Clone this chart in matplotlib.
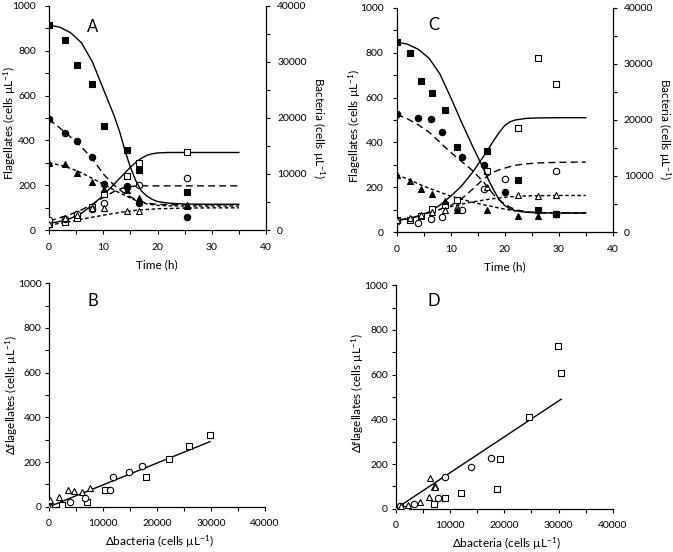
import matplotlib
matplotlib.use("Agg")
import matplotlib.pyplot as plt

plt.rcParams["font.family"] = ["Lato", "DejaVu Sans"]
plt.rcParams["mathtext.default"] = "regular"

# ---- panel A: time series (open = flagellates, filled = bacteria) ----
a_time = [0, 3.0, 5.2, 7.9, 10.2, 14.3, 16.6, 25.4]
a_bact_sq = [36600, 33900, 29500, 26100, 18600, 14300, 10700, 6700]
a_bact_ci = [19800, 17400, 15800, 13000, 8300, 7600, 4900, 2300]
a_bact_tr = [12000, 11800, 10200, 8500, 7300, 7100, 5800, 4400]
a_flag_sq = [28, 34, 52, 103, 161, 242, 300, 350]
a_flag_ci = [45, 50, 72, 92, 122, 195, 203, 231]
a_flag_tr = [27, 55, 66, 97, 97, 86, 87, 106]

a_fit_t = [0, 2, 4, 6, 8, 10, 12, 13, 14, 15, 16, 17, 18, 19, 20, 22, 25, 30, 35]
a_fit_bact_sq = [36600, 36200, 35200, 33400, 30000, 25200, 20400, 17600, 14200, 11200,
                 8800, 7000, 6080, 5480, 5080, 4800, 4640, 4600, 4600]
a_fit_bact_ci = [19800, 18200, 16600, 14800, 12720, 10000, 8000, 7200, 6480, 5920,
                 5400, 5080, 4800, 4680, 4600, 4520, 4520, 4520, 4520]
a_fit_bact_tr = [12000, 11600, 11000, 10200, 9200, 8200, 7120, 6640, 6200, 5720,
                 5280, 4960, 4680, 4520, 4400, 4320, 4280, 4280, 4280]
a_fit_flag_sq = [30, 38, 52, 75, 112, 155, 205, 230, 255, 280, 302, 320, 333, 340, 344, 346, 346, 346, 346]
a_fit_flag_ci = [40, 55, 70, 90, 115, 145, 172, 182, 190, 194, 196, 197, 197, 197, 197, 197, 197, 197, 197]
a_fit_flag_tr = [22, 30, 38, 48, 57, 66, 74, 78, 82, 85, 88, 90, 92, 93, 95, 96, 98, 99, 99]

# ---- panel C ----
c_time_sq = [0, 2.5, 4.5, 6.6, 8.9, 11.2, 16.7, 22.4, 26.1, 29.5]
c_time_ci = [0, 3.9, 6.35, 8.4, 12.0, 16.1, 20.1, 29.5]
c_bact_sq = [33900, 32000, 27000, 24800, 21800, 15200, 14500, 9200, 3900, 3200]
c_bact_ci = [21100, 20300, 20100, 17800, 13300, 12000, 7100, 3300]
c_bact_tr = [10100, 9100, 7700, 6700, 5600, 4000, 3900, 2900, 2800, 3200]
c_flag_sq = [54, 54, 73, 101, 120, 143, 272, 466, 778, 661]
c_flag_ci = [50, 42, 59, 65, 98, 190, 235, 270]
c_flag_tr = [55, 62, 75, 88, 100, 112, 202, 165, 162, 163]

c_fit_t = [0, 2, 4, 6, 8, 10, 12, 14, 16, 17, 18, 19, 20, 21, 22, 24, 26, 30, 35]
c_fit_bact_sq = [33920, 33520, 32600, 31000, 28200, 24000, 19600, 15400, 11400, 9280,
                 7400, 5720, 4720, 4120, 3800, 3520, 3440, 3400, 3400]
c_fit_bact_ci = [21000, 20200, 19120, 17800, 16000, 14200, 12600, 11000, 9000, 7800,
                 6600, 5720, 5000, 4400, 4000, 3600, 3440, 3400, 3400]
c_fit_bact_tr = [10200, 9480, 8600, 7800, 7120, 6400, 5880, 5320, 4880, 4680,
                 4480, 4280, 4080, 3920, 3760, 3560, 3480, 3400, 3400]
c_fit_flag_sq = [52, 58, 70, 90, 120, 160, 205, 265, 335, 372, 410, 445, 475, 492, 500, 507, 509, 510, 510]
c_fit_flag_ci = [52, 60, 72, 88, 102, 118, 148, 190, 235, 253, 268, 278, 285, 292, 298, 304, 308, 311, 312]
c_fit_flag_tr = [52, 60, 72, 86, 100, 113, 124, 134, 142, 146, 149, 152, 155, 157, 159, 161, 162, 163, 163]

# ---- panel B: delta flagellates vs delta bacteria ----
b_sq_x = [0, 2500, 7050, 10450, 17950, 22300, 25850, 29750]
b_sq_y = [0, 7, 22, 76, 132, 212, 272, 322]
b_ci_x = [0, 3900, 6600, 11300, 11900, 14900, 17300]
b_ci_y = [0, 19, 40, 77, 134, 156, 184]
b_tr_x = [0, 185, 1850, 3460, 4700, 6050, 7600]
b_tr_y = [0, 30, 43, 73, 70, 64, 85]
b_fit_x = [0, 29800]
b_fit_y = [0, 291]

# ---- panel D ----
d_sq_x = [0, 1900, 7000, 9030, 12100, 18670, 19290, 24570, 29850, 30400]
d_sq_y = [0, 0, 19, 46, 72, 88, 221, 411, 727, 609]
d_ci_x = [0, 860, 3300, 7800, 9030, 13940, 17630]
d_ci_y = [0, 12, 19, 49, 143, 188, 225]
d_tr_x = [0, 1000, 2270, 4550, 6080, 6270, 7000, 7200, 7300]
d_tr_y = [0, 10, 18, 31, 54, 139, 98, 102, 97]
d_fit_x = [0, 30500]
d_fit_y = [0, 490]

W, H = 673, 552
UNIT = "(cells µL$^{-1}$)"
TICK_FS = 7.5
LABEL_FS = 8.5
MS = {"s": 4.6, "o": 4.6, "^": 4.8}
LONG_DASH = (0, (5, 3))
SHORT_DASH = (0, (2.6, 1.8))


def _px(x, y):
    return x / W, 1 - y / H


def _label(x, y, s, rot=0):
    fig.text(*_px(x, y), s, fontsize=LABEL_FS, rotation=rot, ha="center", va="center")


def _marks(ax, x, y, marker, filled):
    ax.plot(x, y, linestyle="none", marker=marker, markersize=MS[marker],
            markerfacecolor="black" if filled else "white",
            markeredgecolor="black", markeredgewidth=0.8, zorder=3)


def _style(ax, xmax, xstep, ypad):
    ax.set_xlim(0, xmax)
    ax.set_ylim(0, 1000)
    xt = list(range(0, xmax + 1, xstep))
    yt = list(range(0, 1001, 100))
    ax.set_xticks(xt)
    ax.set_xticklabels([str(v) if i % 2 == 0 else "" for i, v in enumerate(xt)])
    ax.set_yticks(yt)
    ax.set_yticklabels([str(v) if i % 2 == 0 else "" for i, v in enumerate(yt)])
    ax.tick_params(direction="out", length=3, width=0.8, labelsize=TICK_FS)
    ax.tick_params(axis="x", pad=6)
    ax.tick_params(axis="y", pad=ypad)
    ax.spines["top"].set_visible(False)
    ax.spines["right"].set_visible(False)
    for s in ax.spines.values():
        s.set_linewidth(0.9)


def time_panel(rect, t_sq, t_ci, t_tr, bact, flag, fit_t, fit_bact, fit_flag):
    ax = fig.add_axes(rect)
    _style(ax, 40, 5, 6.5)
    ax2 = ax.twinx()
    ax2.set_ylim(0, 40000)
    ax2.set_yticks(list(range(0, 40001, 5000)))
    ax2.set_yticklabels([str(v) if v % 10000 == 0 else "" for v in range(0, 40001, 5000)])
    ax2.tick_params(direction="out", length=3, width=0.8, labelsize=TICK_FS, pad=5)
    for side in ["top", "left", "bottom"]:
        ax2.spines[side].set_visible(False)
    ax2.spines["right"].set_linewidth(0.9)

    styles = ["-", LONG_DASH, SHORT_DASH]
    for fb, ff, ls in zip(fit_bact, fit_flag, styles):
        ax.plot(fit_t, ff, color="black", linewidth=1.0, linestyle=ls, zorder=2)
        ax2.plot(fit_t, fb, color="black", linewidth=1.0, linestyle=ls, zorder=2)
    for t, b, f, m in zip([t_sq, t_ci, t_tr], bact, flag, ["s", "o", "^"]):
        _marks(ax, t, f, m, False)
        _marks(ax2, t, b, m, True)


def delta_panel(rect, sq, ci, tr, fit):
    ax = fig.add_axes(rect)
    _style(ax, 40000, 5000, 2.5)
    ax.plot(fit[0], fit[1], color="black", linewidth=1.0, zorder=2)
    for (x, y), m in zip([sq, ci, tr], ["s", "o", "^"]):
        _marks(ax, x, y, m, False)


fig = plt.figure(figsize=(W / 100, H / 100), dpi=100)

time_panel([0.0728, 0.5833, 0.3225, 0.406], a_time, a_time, a_time,
           [a_bact_sq, a_bact_ci, a_bact_tr], [a_flag_sq, a_flag_ci, a_flag_tr],
           a_fit_t, [a_fit_bact_sq, a_fit_bact_ci, a_fit_bact_tr],
           [a_fit_flag_sq, a_fit_flag_ci, a_fit_flag_tr])
time_panel([0.5895, 0.5797, 0.321, 0.406], c_time_sq, c_time_ci, c_time_sq,
           [c_bact_sq, c_bact_ci, c_bact_tr], [c_flag_sq, c_flag_ci, c_flag_tr],
           c_fit_t, [c_fit_bact_sq, c_fit_bact_ci, c_fit_bact_tr],
           [c_fit_flag_sq, c_fit_flag_ci, c_fit_flag_tr])
delta_panel([0.0728, 0.082, 0.321, 0.405],
            (b_sq_x, b_sq_y), (b_ci_x, b_ci_y), (b_tr_x, b_tr_y), (b_fit_x, b_fit_y))
delta_panel([0.588, 0.0784, 0.3225, 0.405],
            (d_sq_x, d_sq_y), (d_ci_x, d_ci_y), (d_tr_x, d_tr_y), (d_fit_x, d_fit_y))

# axis titles, placed where the reference has them
_label(10, 123, "Flagellates " + UNIT, 90)
_label(318, 128, "Bacteria " + UNIT, 270)
_label(157, 265, "Time (h)")
_label(355, 126, "Flagellates " + UNIT, 90)
_label(664, 129, "Bacteria " + UNIT, 270)
_label(505, 267, "Time (h)")
_label(12, 395, "Δflagellates " + UNIT, 90)
_label(160, 542, "Δbacteria " + UNIT)
_label(358, 393, "Δflagellates " + UNIT, 90)
_label(507, 544, "Δbacteria " + UNIT)

# panel letters
for x, y, s in [(93, 27, "A"), (434, 25, "C"), (93, 301, "B"), (434, 301, "D")]:
    fig.text(*_px(x, y), s, fontsize=12, ha="center", va="center")

fig.savefig("out.png", dpi=100)
